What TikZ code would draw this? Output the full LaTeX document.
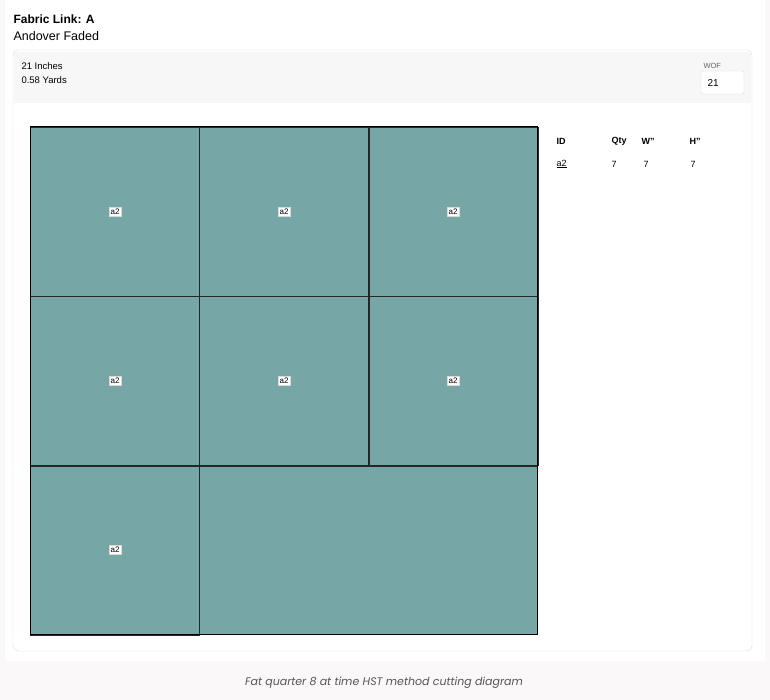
\documentclass[tikz,border=0pt]{standalone}
\usepackage{fontspec}
\setmainfont{Liberation Sans}
\newfontfamily\capfont{Poppins}
\definecolor{fabric}{HTML}{76A7A6}
\definecolor{pagegrey}{HTML}{FAF8F9}
\definecolor{bandgrey}{HTML}{F7F7F7}
\definecolor{cardline}{HTML}{DDDDDD}
\definecolor{captext}{HTML}{555555}

\begin{document}
\begin{tikzpicture}[x=1pt, y=-1pt,
        piece/.style={draw=black!85, fill=fabric, line width=0.6pt},
        cutlabel/.style={fill=white, draw=white!85!black, inner sep=1.8pt, font=\fontsize{8}{9}\selectfont},
        head/.style={anchor=west, font=\fontsize{9}{10}\selectfont\bfseries},
        cell/.style={anchor=west, font=\fontsize{9}{10}\selectfont}]
        \useasboundingbox (0, 0) rectangle (770, 700);
        \fill[pagegrey] (0, 0) rectangle (770, 700);
        \fill[white] (5, 0) rectangle (765, 661);

        % card
        \draw[cardline, fill=white, rounded corners=5pt] (13, 50) rectangle (752, 651);
        \fill[bandgrey] (14, 52) rectangle (751, 103);

        \node[anchor=west, font=\fontsize{12}{14}\selectfont\bfseries] (title) at (10, 19) {Fabric Link: A};
        \node[anchor=west, font=\fontsize{12.5}{14}\selectfont] (name) at (10, 36) {Andover Faded};
        \node[anchor=west, font=\fontsize{9.5}{10}\selectfont] (inches) at (18, 66) {21 Inches};
        \node[anchor=west, font=\fontsize{9.5}{10}\selectfont] (yards) at (18, 80) {0.58 Yards};

        \node[anchor=west, text=black!60, font=\fontsize{7.5}{8}\selectfont] (woflabel) at (700, 66) {WOF};
        \draw[cardline, fill=white, rounded corners=1.5pt] (701, 71) rectangle (744, 94);
        \node[anchor=west, font=\fontsize{10}{11}\selectfont] (wof) at (704, 83) {21};

        % cutting diagram
        \foreach \x/\y in {30/127, 199/127, 369/127, 30/296, 199/296, 369/296, 30/466}
                \draw[piece] (\x, \y) rectangle ++(169, 169);
        \draw[piece] (199, 466) rectangle (537, 634);
        \draw[line width=1pt] (30, 127) rectangle (537, 634);

        \node[cutlabel] (p1) at (115, 212) {a2};
        \node[cutlabel] (p2) at (284, 212) {a2};
        \node[cutlabel] (p3) at (453, 212) {a2};
        \node[cutlabel] (p4) at (115, 381) {a2};
        \node[cutlabel] (p5) at (284, 381) {a2};
        \node[cutlabel] (p6) at (453, 381) {a2};
        \node[cutlabel] (p7) at (115, 550) {a2};

        % table
        \node[head] (hid) at (553, 141) {ID};
        \node[head] (hqty) at (608, 141) {Qty};
        \node[head] (hw) at (638, 141) {W"};
        \node[head] (hh) at (686, 141) {H"};
        \node[cell] (rid) at (553, 164) {\underline{a2}};
        \node[cell] (rqty) at (608, 164) {7};
        \node[cell] (rw) at (640, 164) {7};
        \node[cell] (rh) at (687, 164) {7};

        \node[text=captext, font=\capfont\itshape\fontsize{11}{13}\selectfont] (caption) at (384, 683) {Fat quarter 8 at time HST method cutting diagram};
\end{tikzpicture}
\end{document}
